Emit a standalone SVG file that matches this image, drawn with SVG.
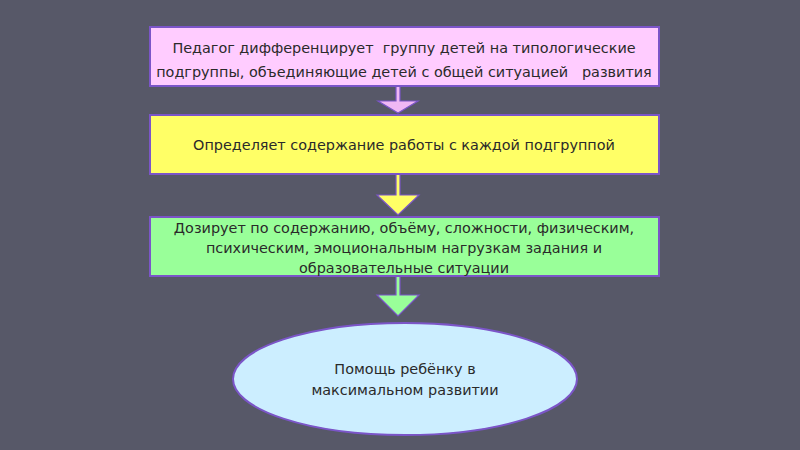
<svg xmlns="http://www.w3.org/2000/svg" width="800" height="450" viewBox="0 0 800 450">
<defs>
<style>
.box{stroke:#7b55c8;stroke-width:2}
.t{font-family:"DejaVu Sans","Liberation Sans",sans-serif;font-size:14.4px;fill:#2a2a2a;text-anchor:middle;white-space:pre}
.arr{stroke:#7b55c8;stroke-width:1.2}
</style>
</defs>
<rect x="0" y="0" width="800" height="450" fill="#575868"/>
<g id="connectors">
<path class="arr" fill="#f0b8f4" d="M396 86 L400 86 L400 101 L418 101 L398 113 L378 101 L396 101 Z"/>
<path class="arr" fill="#ffff66" d="M396 174 L400 174 L400 195 L419 195 L398 215 L377 195 L396 195 Z"/>
<path class="arr" fill="#99ff99" d="M396 276 L400 276 L400 295 L419 295 L398 316 L377 295 L396 295 Z"/>
</g>
<g id="n1">
<rect class="box" x="150" y="27" width="509" height="59" fill="#ffccff"/>
<text class="t" x="404" y="53" xml:space="preserve">Педагог дифференцирует  группу детей на типологические</text>
<text class="t" x="404" y="77" xml:space="preserve">подгруппы, объединяющие детей с общей ситуацией   развития</text>
</g>
<g id="n2">
<rect class="box" x="150" y="115" width="509" height="59" fill="#ffff66"/>
<text class="t" x="404" y="150">Определяет содержание работы с каждой подгруппой</text>
</g>
<g id="n3">
<rect class="box" x="150" y="217" width="509" height="59" fill="#99ff99"/>
<text class="t" x="404" y="233">Дозирует по содержанию, объёму, сложности, физическим,</text>
<text class="t" x="404" y="253">психическим, эмоциональным нагрузкам задания и</text>
<text class="t" x="404" y="273">образовательные ситуации</text>
</g>
<g id="n4">
<ellipse class="box" cx="405" cy="379" rx="172" ry="56" fill="#cceeff"/>
<text class="t" x="405" y="374">Помощь ребёнку в</text>
<text class="t" x="405" y="395">максимальном развитии</text>
</g>
</svg>
